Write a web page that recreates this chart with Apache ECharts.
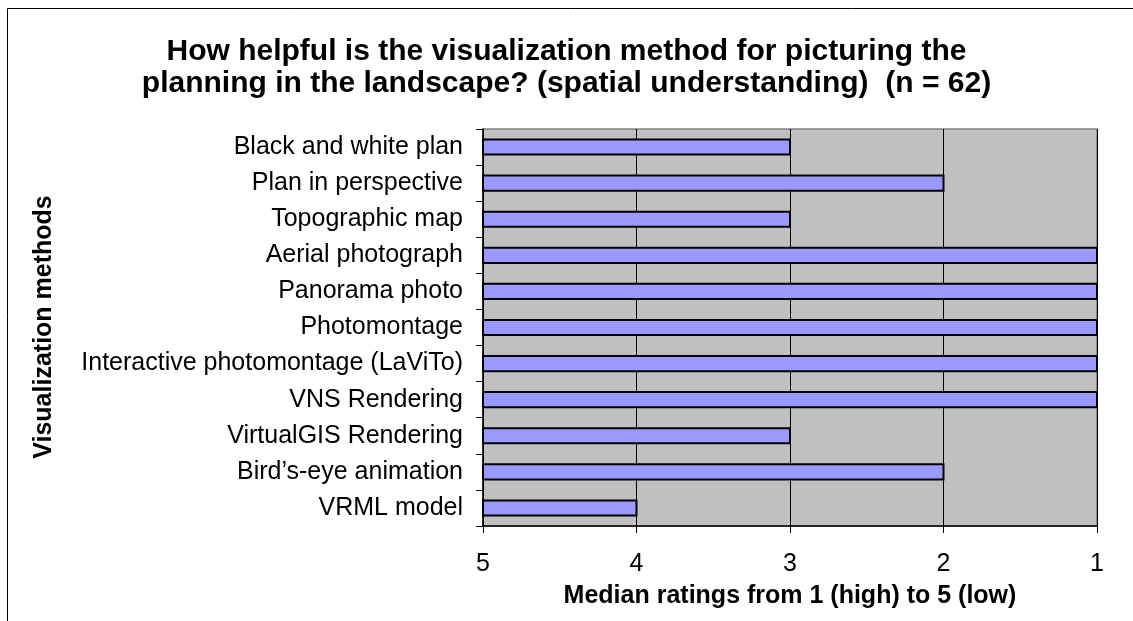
<!DOCTYPE html>
<html>
<head>
<meta charset="utf-8">
<script src="https://cdn.jsdelivr.net/npm/echarts@6/dist/echarts.min.js"></script>
<style>
html,body{margin:0;padding:0;background:#fff;}
#chart{width:1133px;height:621px;}
</style>
</head>
<body>
<div id="chart"></div>
<script>
const titleText = "How helpful is the visualization method for picturing the\nplanning in the landscape? (spatial understanding)  (n = 62)";
const categories = [
  "Black and white plan",
  "Plan in perspective",
  "Topographic map",
  "Aerial photograph",
  "Panorama photo",
  "Photomontage",
  "Interactive photomontage (LaViTo)",
  "VNS Rendering",
  "VirtualGIS Rendering",
  "Bird\u2019s-eye animation",
  "VRML model"
];
const medianRatings = [3, 2, 3, 1, 1, 1, 1, 1, 3, 2, 4];
const ratingTicks = [1, 2, 3, 4, 5];
const barOrigin = 5;
const xAxisName = "Median ratings from 1 (high) to 5 (low)";
const yAxisName = "Visualization methods";

const chart = echarts.init(document.getElementById('chart'), null, {renderer: 'canvas'});
const FONT = '"Liberation Sans", Arial, sans-serif';

const option = {
  backgroundColor: '#ffffff',
  animation: false,
  title: {
    text: titleText,
    left: 'center',
    top: 31,
    textStyle: {fontFamily: FONT, fontSize: 30, fontWeight: 'bold', color: '#000', lineHeight: 32}
  },
  graphic: [
    {type: 'rect', shape: {x: 7.5, y: 8.5, width: 1140, height: 640}, style: {fill: 'none', stroke: '#000', lineWidth: 1}, z: 0},
    {type: 'text', x: 44, y: 327, rotation: Math.PI / 2,
     style: {text: yAxisName, fontFamily: FONT, fontSize: 25, fontWeight: 'bold', fill: '#000', align: 'center', verticalAlign: 'middle'}}
  ],
  grid: {
    left: 483, right: 36, top: 129, bottom: 95,
    show: true, backgroundColor: '#C0C0C0', borderColor: '#808080', borderWidth: 1.5
  },
  xAxis: {
    type: 'value', min: ratingTicks[0], max: ratingTicks[ratingTicks.length - 1], interval: 1, inverse: true,
    name: xAxisName, nameLocation: 'middle', nameGap: 58,
    nameTextStyle: {fontFamily: FONT, fontSize: 25, fontWeight: 'bold', color: '#000'},
    axisLine: {show: true, lineStyle: {color: '#000', width: 1.5}},
    axisTick: {show: true, length: 7, lineStyle: {color: '#000'}},
    axisLabel: {fontFamily: FONT, fontSize: 25, color: '#000', margin: 26},
    splitLine: {show: true, lineStyle: {color: '#000', width: 1}}
  },
  yAxis: {
    type: 'category', data: categories, inverse: true,
    axisLine: {show: true, lineStyle: {color: '#000', width: 1.5}},
    axisTick: {show: true, length: 7, lineStyle: {color: '#000'}},
    axisLabel: {fontFamily: FONT, fontSize: 25, color: '#000', margin: 20},
    splitLine: {show: false}
  },
  series: [{
    type: 'custom',
    data: categories.map((c, i) => [medianRatings[i], i]),
    encode: {x: 0, y: 1},
    renderItem: function (params, api) {
      const v = api.value(0);
      const idx = api.value(1);
      const p0 = api.coord([barOrigin, idx]);
      const p1 = api.coord([v, idx]);
      const h = api.size([0, 1])[1] * 0.42;
      return {
        type: 'rect',
        shape: {x: Math.min(p0[0], p1[0]), y: p0[1] - h / 2, width: Math.abs(p1[0] - p0[0]), height: h},
        style: {fill: '#9999FF', stroke: '#000', lineWidth: 2}
      };
    }
  }]
};
chart.setOption(option);
</script>
</body>
</html>
